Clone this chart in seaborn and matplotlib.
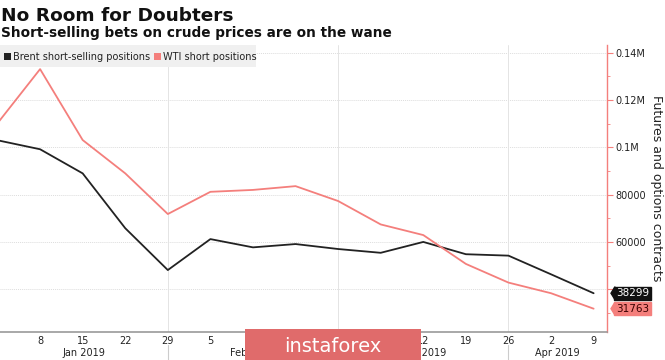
import matplotlib
matplotlib.use("Agg")
import matplotlib.pyplot as plt
import matplotlib.dates as mdates
import matplotlib.ticker as mticker
from matplotlib.patches import Rectangle, Polygon
import seaborn as sns
import pandas as pd
import numpy as np

# ---- data ----
dates = pd.date_range("2019-01-01", "2019-04-09", freq="7D")
brent = [103000, 99200, 89000, 65800, 48100, 61200, 57700, 59100, 57000,
         55400, 60000, 54800, 54200, 46300, 38299]
wti = [110200, 133100, 103100, 89000, 71800, 81200, 82000, 83600, 77300,
       67400, 62900, 50700, 42800, 38300, 31763]
series_names = ["Brent short-selling positions", "WTI short positions"]
colors = ["#222222", "#f47f7c"]
month_labels = ["Jan 2019", "Feb 2019", "Mar 2019", "Apr 2019"]
ytick_vals = [40000, 60000, 80000, 100000, 120000, 140000]
ytick_labels = ["", "60000", "80000", "0.1M", "0.12M", "0.14M"]
hidden_days = ["2019-02-12", "2019-02-19", "2019-02-26", "2019-03-05"]

df = pd.DataFrame({
    "date": list(dates) * 2,
    "value": brent + wti,
    "series": [series_names[0]] * len(dates) + [series_names[1]] * len(dates),
})

sns.set_style("white")
plt.rcParams["font.family"] = ["DejaVu Sans"]

W, H = 665, 360
fig = plt.figure(figsize=(W / 100, H / 100), dpi=100)
ax = fig.add_axes([0 / W, 1 - 332 / H, 607 / W, (332 - 45) / H])

sns.lineplot(data=df, x="date", y="value", hue="series", palette=colors,
             ax=ax, linewidth=1.3, legend=False)

x0 = mdates.date2num(pd.Timestamp("2019-01-01")) + 0.41
x1 = mdates.date2num(pd.Timestamp("2019-04-09")) + 2.2
ax.set_xlim(x0, x1)
ax.set_ylim(21900, 143300)

# y axis on right
ax.yaxis.tick_right()
ax.yaxis.set_label_position("right")
ax.set_yticks(ytick_vals)
ax.set_yticklabels(ytick_labels)
ax.yaxis.set_minor_locator(mticker.MultipleLocator(10000))
ax.tick_params(axis="y", which="major", right=True, length=4, width=0.8,
               color="#f47f7c", labelsize=7, labelcolor="#222222", pad=2)
ax.tick_params(axis="y", which="minor", right=True, length=2, width=0.6,
               color="#f47f7c")
ax.set_ylabel("Futures and options contracts", rotation=270, labelpad=12,
              fontsize=9, color="#222222")

for s in ["top", "left"]:
    ax.spines[s].set_visible(False)
ax.spines["right"].set_color("#f47f7c")
ax.spines["right"].set_linewidth(1.0)
ax.spines["bottom"].set_color("#999999")
ax.spines["bottom"].set_linewidth(1.2)

# x ticks
xt = dates[1:]
ax.set_xticks(xt)
hidden = set(pd.to_datetime(hidden_days))
ax.set_xticklabels(["" if d in hidden else str(d.day) for d in xt])
ax.set_xlabel("")
ax.tick_params(axis="x", length=0, labelsize=7, labelcolor="#222222", pad=3)

# gridlines
for v in ytick_vals:
    ax.axhline(v, color="#dddddd", lw=0.7, ls=(0, (1, 1)), zorder=0)
for d in ["2019-01-29", "2019-02-26", "2019-03-26"]:
    ax.axvline(pd.Timestamp(d), color="#e4e4e4", lw=0.7, zorder=0)

# month labels and separators
trans = ax.get_xaxis_transform()
sep = [x0, mdates.date2num(pd.Timestamp("2019-01-29")),
       mdates.date2num(pd.Timestamp("2019-02-26")),
       mdates.date2num(pd.Timestamp("2019-03-26")), x1]
ybot = -(353 - 332) / (332 - 45)
for i, lab in enumerate(month_labels):
    ax.text((sep[i] + sep[i + 1]) / 2, ybot, lab, transform=trans,
            ha="center", va="center", fontsize=7, color="#222222")
for s in sep[1:4]:
    ax.plot([s, s], [-(345 - 332) / 287, -(360 - 332) / 287], transform=trans,
            color="#cccccc", lw=0.8, clip_on=False)

# end value labels
ytr = ax.get_yaxis_transform()
def end_label(val, fc, tc):
    xa = 1.0 + 9 / 607
    ax.text(xa, val, f"{val:d}", transform=ytr,
            ha="left", va="center", fontsize=7.5, color=tc,
            bbox=dict(boxstyle="square,pad=0.15", fc=fc, ec=fc))
    hh = 6.5 * 422.8
    ax.add_patch(Polygon([(1 + 8 / 607, val + hh), (1 + 4 / 607, val),
                          (1 + 8 / 607, val - hh)], closed=True,
                         transform=ytr, fc=fc, ec=fc, clip_on=False))

end_label(38299, "#111111", "white")
end_label(31763, "#f47f7c", "#3a0000")

# title
fig.text(1 / W, 1 - 21 / H, "No Room for Doubters", fontsize=13.3,
         fontweight="bold", color="#111111", ha="left", va="baseline")
fig.text(1 / W, 1 - 37 / H, "Short-selling bets on crude prices are on the wane",
         fontsize=9.8, fontweight="bold", color="#111111", ha="left",
         va="baseline")

# legend box
fig.patches.append(Rectangle((0, 1 - 67 / H), 256 / W, 22 / H,
                             transform=fig.transFigure, fc="#f0f0f0", ec="none",
                             zorder=2))
lx = [4, 154]
for i, name in enumerate(series_names):
    fig.patches.append(Rectangle((lx[i] / W, 1 - 60 / H), 7 / W, 7 / H,
                                 transform=fig.transFigure, fc=colors[i],
                                 ec="none", zorder=3))
    fig.text((lx[i] + 9) / W, 1 - 56.5 / H, name, fontsize=7, color="#222222",
             ha="left", va="center", zorder=3,
             family=["Liberation Sans Narrow", "DejaVu Sans"])

# watermark
fig.patches.append(Rectangle((245 / W, 0), 176 / W, 31 / H,
                             transform=fig.transFigure, fc="#e06b6b",
                             ec="none", zorder=5))
fig.text(333 / W, 14 / H, "instaforex", fontsize=14, color="white",
         ha="center", va="center", zorder=6)

fig.savefig("out.png", dpi=100)
